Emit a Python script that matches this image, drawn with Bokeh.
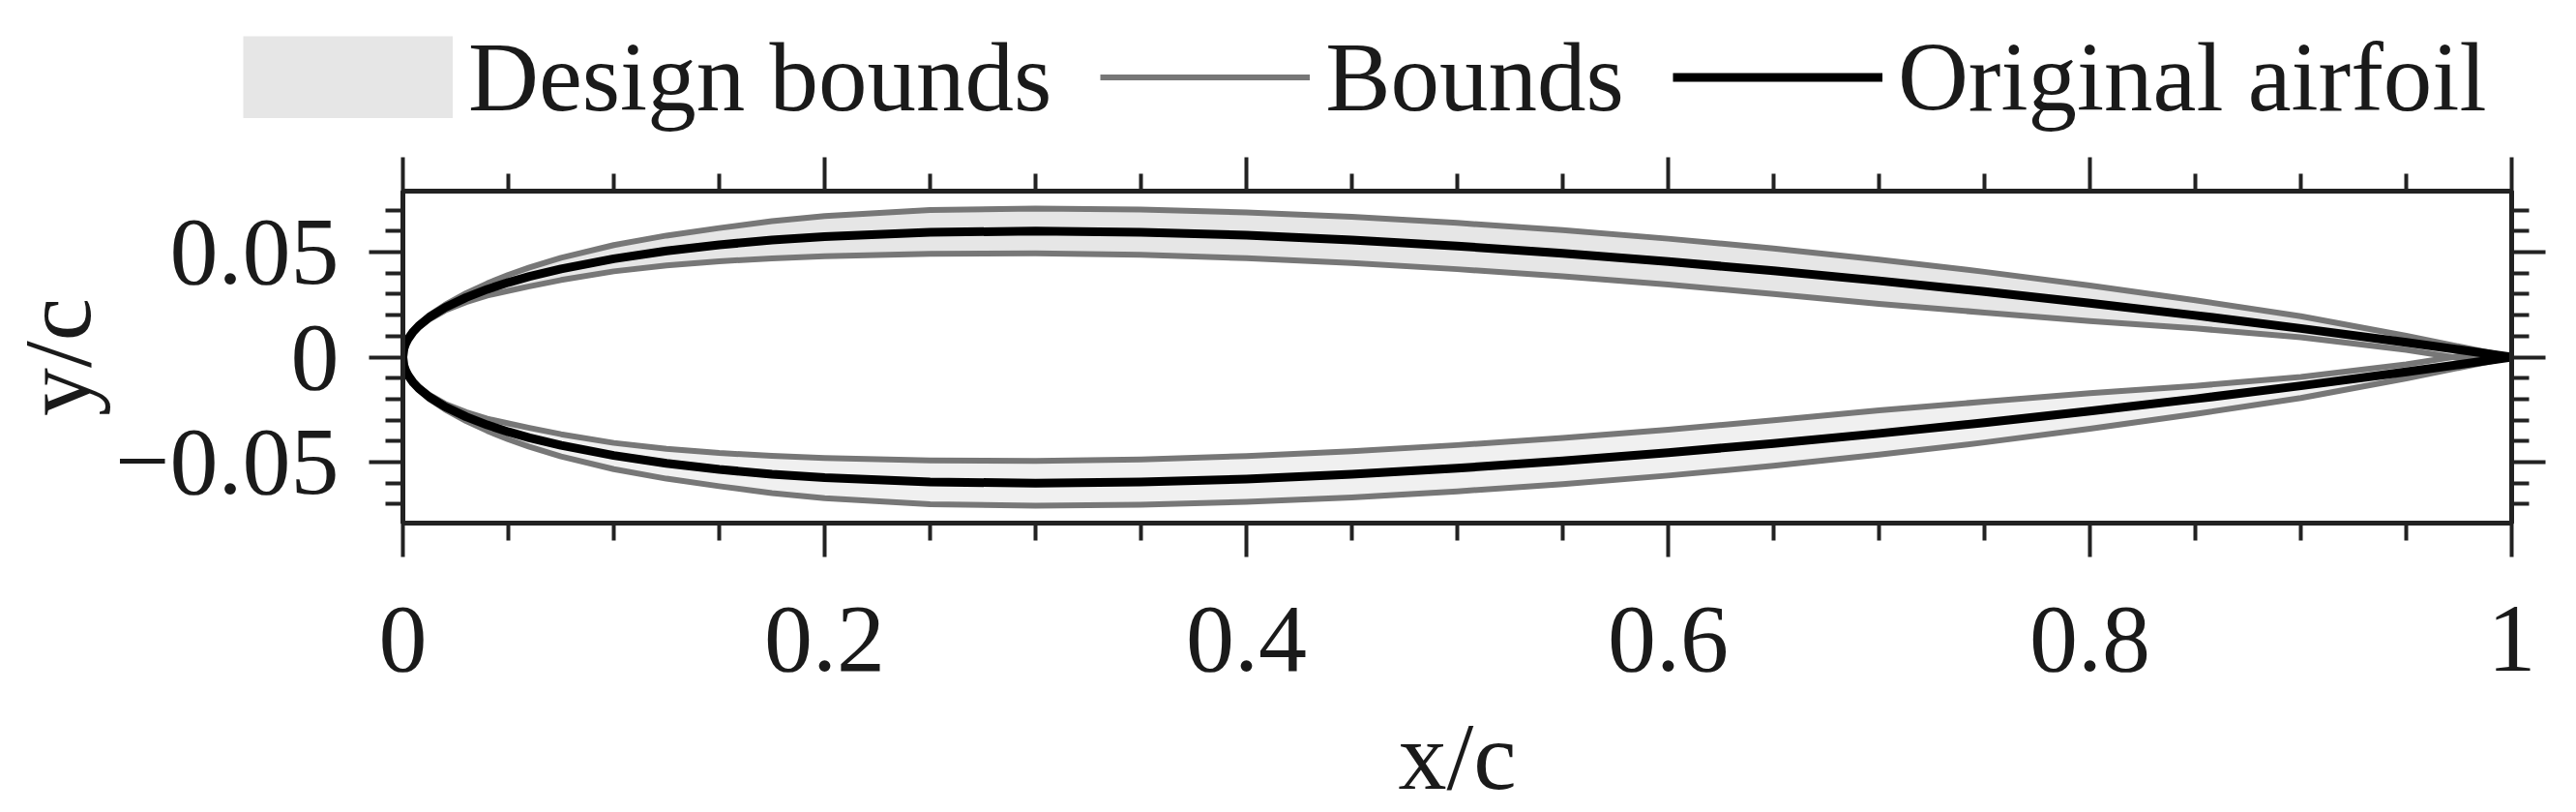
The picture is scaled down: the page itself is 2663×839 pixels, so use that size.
from bokeh.plotting import figure
from bokeh.models import Range1d, FixedTicker, LinearAxis, Legend, LegendItem
from bokeh.embed import file_html
from bokeh.resources import INLINE

# ---------------- data ----------------
x_c = [0.0, 0.0005, 0.00125, 0.0025, 0.005, 0.0075, 0.0125, 0.02, 0.03, 0.04,
       0.05, 0.06, 0.075, 0.1, 0.125, 0.15, 0.175, 0.2, 0.25, 0.3,
       0.35, 0.4, 0.45, 0.5, 0.55, 0.6, 0.65, 0.7, 0.75, 0.8,
       0.85, 0.9, 0.95, 0.975, 1.0]

# original airfoil, upper surface (symmetric section)
y_original = [0.0, 0.00395, 0.00620, 0.00872, 0.01221, 0.01485, 0.01894, 0.02360, 0.02840, 0.03228,
              0.03555, 0.03838, 0.04200, 0.04683, 0.05055, 0.05345, 0.05569, 0.05737, 0.05941, 0.06001,
              0.05947, 0.05800, 0.05576, 0.05286, 0.04941, 0.04547, 0.04110, 0.03634, 0.03120, 0.02571,
              0.01987, 0.01365, 0.00704, 0.00358, 0.0]

# outer bound of the upper surface
y_bound_outer = [0.0, 0.00405, 0.00640, 0.00902, 0.01271, 0.01555, 0.01994, 0.02490, 0.03040, 0.03508,
                 0.03915, 0.04268, 0.04730, 0.05333, 0.05785, 0.06145, 0.06469, 0.06717, 0.07001, 0.07071,
                 0.07027, 0.06890, 0.06676, 0.06386, 0.06041, 0.05637, 0.05170, 0.04644, 0.04060, 0.03411,
                 0.02707, 0.01945, 0.01014, 0.00508, 0.0]

# inner bound of the upper surface
y_bound_inner = [0.0, 0.00385, 0.00600, 0.00842, 0.01171, 0.01415, 0.01794, 0.02220, 0.02620, 0.02928,
                 0.03155, 0.03368, 0.03670, 0.04083, 0.04365, 0.04565, 0.04699, 0.04807, 0.04921, 0.04941,
                 0.04867, 0.04710, 0.04476, 0.04186, 0.03841, 0.03457, 0.03010, 0.02534, 0.02120, 0.01721,
                 0.01367, 0.00945, 0.00344, -0.00042, 0.0]

# lower surface is the mirror image
y_original_low = [-v for v in y_original]
y_bound_outer_low = [-v for v in y_bound_outer]
y_bound_inner_low = [-v for v in y_bound_inner]

x_ticks = [0, 0.2, 0.4, 0.6, 0.8, 1.0]
x_tick_labels = ["0", "0.2", "0.4", "0.6", "0.8", "1"]
x_minor = [0.05, 0.1, 0.15, 0.25, 0.3, 0.35, 0.45, 0.5, 0.55, 0.65, 0.7, 0.75, 0.85, 0.9, 0.95]
y_ticks = [-0.05, 0, 0.05]
y_tick_labels = ["\u22120.05", "0", "0.05"]
y_minor = [-0.07, -0.06, -0.04, -0.03, -0.02, -0.01, 0.01, 0.02, 0.03, 0.04, 0.06, 0.07]

series_names = ["Design bounds", "Bounds", "Original airfoil"]
x_label = "x/c"
y_label = "y/c"

# ---------------- style ----------------
FONT = "Liberation Serif"
TXT = "#1a1a1a"
AX = "#222222"
FILL_UP = "#e6e6e6"
FILL_LO = "#f0f0f0"
GRAY = "#777777"
W = 2663
LEG_H = 159

# ---------------- main plot ----------------
p = figure(width=W, height=839 - LEG_H, output_backend="svg", toolbar_location=None,
           x_range=Range1d(0, 1), y_range=Range1d(-0.079, 0.079),
           min_border_left=416, min_border_right=67, min_border_top=197 - LEG_H, min_border_bottom=299,
           background_fill_color="white", border_fill_color="white")
p.grid.visible = False
p.outline_line_color = AX
p.outline_line_width = 5


def style_axis(ax, ticks, minor, labels, show):
    ax.ticker = FixedTicker(ticks=ticks, minor_ticks=minor)
    ax.major_label_overrides = {t: l for t, l in zip(ticks, labels)}
    ax.axis_line_color = AX
    ax.axis_line_width = 5
    ax.major_tick_line_color = AX
    ax.major_tick_line_width = 4
    ax.minor_tick_line_color = AX
    ax.minor_tick_line_width = 4
    ax.major_tick_in = 0
    ax.major_tick_out = 35
    ax.minor_tick_in = 0
    ax.minor_tick_out = 18
    ax.major_label_text_font = FONT
    ax.axis_label_text_font = FONT
    ax.axis_label_text_font_style = "normal"
    ax.axis_label_text_font_size = "100px"
    ax.axis_label_text_color = TXT
    if show:
        ax.major_label_text_font_size = "100px"
        ax.major_label_text_color = TXT
    else:
        ax.major_label_text_font_size = "0px"
        ax.major_label_text_color = None
        ax.major_label_text_alpha = 0
        ax.major_label_standoff = 0


style_axis(p.xaxis[0], x_ticks, x_minor, x_tick_labels, True)
p.xaxis[0].major_label_standoff = 52
p.xaxis[0].axis_label = x_label
p.xaxis[0].axis_label_standoff = 30
style_axis(p.yaxis[0], y_ticks, y_minor, y_tick_labels, True)
p.yaxis[0].major_label_standoff = 31
p.yaxis[0].axis_label = y_label
p.yaxis[0].axis_label_standoff = 1

top_axis = LinearAxis()
style_axis(top_axis, x_ticks, x_minor, x_tick_labels, False)
p.add_layout(top_axis, "above")
right_axis = LinearAxis()
style_axis(right_axis, y_ticks, y_minor, y_tick_labels, False)
p.add_layout(right_axis, "right")

p.varea(x=x_c, y1=y_bound_inner, y2=y_bound_outer, fill_color=FILL_UP)
p.varea(x=x_c, y1=y_bound_outer_low, y2=y_bound_inner_low, fill_color=FILL_LO)
p.multi_line(xs=[x_c, x_c, x_c, x_c],
             ys=[y_bound_outer, y_bound_inner, y_bound_outer_low, y_bound_inner_low],
             line_color=GRAY, line_width=6, line_join="round")
p.multi_line(xs=[x_c, x_c], ys=[y_original, y_original_low],
             line_color="black", line_width=9, line_join="round")

# ---------------- legend strip above the plot ----------------
lg = figure(width=W, height=LEG_H, output_backend="svg", toolbar_location=None,
            x_range=Range1d(0, 1), y_range=Range1d(1, 2),   # series kept out of view here
            x_axis_location=None, y_axis_location=None, min_border=0,
            background_fill_color="white", border_fill_color="white")
lg.grid.visible = False
lg.outline_line_color = None
band_r = lg.line(x=x_c, y=y_bound_outer, line_color=FILL_UP, line_width=85, line_cap="butt")
bounds_r = lg.multi_line(xs=[x_c, x_c], ys=[y_bound_outer, y_bound_inner],
                         line_color=GRAY, line_width=6)
orig_r = lg.multi_line(xs=[x_c, x_c], ys=[y_original, y_original_low],
                       line_color="black", line_width=9)

legend = Legend(items=[LegendItem(label=series_names[0], renderers=[band_r]),
                       LegendItem(label=series_names[1], renderers=[bounds_r]),
                       LegendItem(label=series_names[2], renderers=[orig_r])],
                orientation="horizontal", location="center_left", margin=251, padding=0,
                spacing=50, label_standoff=16, glyph_width=217, glyph_height=85,
                label_text_font=FONT, label_text_font_size="101px", label_text_color=TXT,
                border_line_alpha=0, background_fill_alpha=0)
lg.add_layout(legend)

open("out.html", "w").write(file_html([lg, p], INLINE))
